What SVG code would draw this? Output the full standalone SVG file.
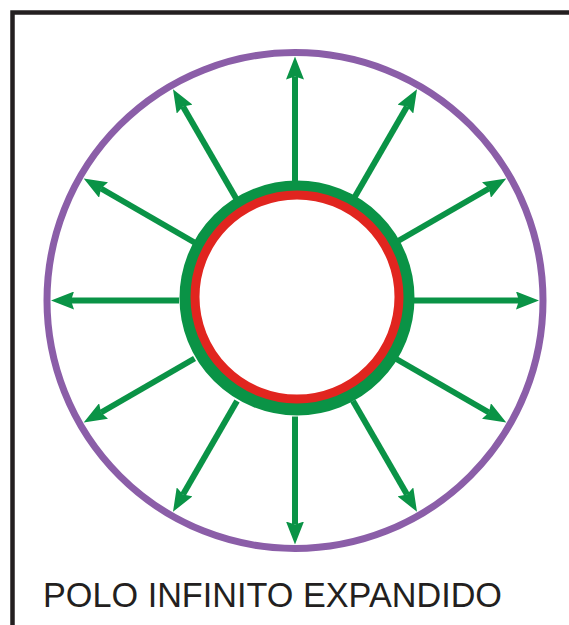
<svg xmlns="http://www.w3.org/2000/svg" width="569" height="625" viewBox="0 0 569 625">
  <style>
    .frame { fill: none; stroke: #231f20; stroke-width: 4.5; }
    .outer { fill: none; stroke: #8b5ea8; stroke-width: 7; }
    .green { fill: none; stroke: #0a9346; stroke-width: 13; }
    .red { fill: none; stroke: #e1251f; stroke-width: 9; }
    .arrow { stroke: #0a9346; stroke-width: 6; marker-end: url(#head); }
    .label { font-family: "Liberation Sans", Arial, sans-serif; font-size: 35.5px; fill: #231f20; text-anchor: middle; }
  </style>
  <defs>
    <marker id="head" markerUnits="userSpaceOnUse" markerWidth="24" markerHeight="18" refX="3" refY="9" orient="auto">
      <path d="M0,0 L23,9 L0,18 L3,9 z" fill="#0a9346"/>
    </marker>
  </defs>
  <rect class="frame" x="12.5" y="12.5" width="620" height="700"/>
  <g id="outer-circle">
    <circle class="outer" cx="295" cy="300.5" r="248"/>
  </g>
  <g id="connectors">
    <line class="arrow" x1="295" y1="184.5" x2="295" y2="76.5"/>
    <line class="arrow" x1="353" y1="200.04" x2="407" y2="106.51"/>
    <line class="arrow" x1="395.46" y1="242.5" x2="488.99" y2="188.5"/>
    <line class="arrow" x1="411" y1="300.5" x2="519" y2="300.5"/>
    <line class="arrow" x1="395.46" y1="358.5" x2="488.99" y2="412.5"/>
    <line class="arrow" x1="353" y1="400.96" x2="407" y2="494.49"/>
    <line class="arrow" x1="295" y1="416.5" x2="295" y2="524.5"/>
    <line class="arrow" x1="237" y1="400.96" x2="183" y2="494.49"/>
    <line class="arrow" x1="194.54" y1="358.5" x2="101.01" y2="412.5"/>
    <line class="arrow" x1="179" y1="300.5" x2="71" y2="300.5"/>
    <line class="arrow" x1="194.54" y1="242.5" x2="101.01" y2="188.5"/>
    <line class="arrow" x1="237" y1="200.04" x2="183" y2="106.51"/>
  </g>
  <g id="pole">
    <circle class="green" cx="297" cy="298" r="111"/>
    <circle class="red" cx="297" cy="297" r="102"/>
  </g>
  <g id="caption">
    <text class="label" x="272.5" y="607" textLength="459" lengthAdjust="spacingAndGlyphs">POLO INFINITO EXPANDIDO</text>
  </g>
</svg>
